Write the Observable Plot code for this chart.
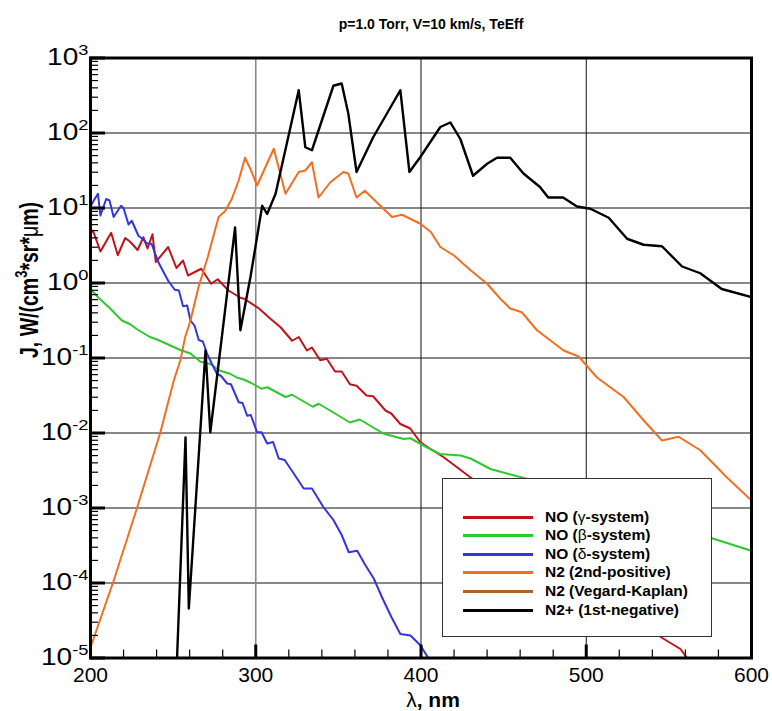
<!DOCTYPE html>
<html>
<head>
<meta charset="utf-8">
<script src="https://cdn.jsdelivr.net/npm/d3@7"></script>
<script src="https://cdn.jsdelivr.net/npm/@observablehq/plot@0.6"></script>
<style>
  body { margin: 0; background: #fff; }
  #wrap { position: relative; width: 772px; height: 711px; font-family: "Liberation Sans", Arial, sans-serif; }
  #title { position: absolute; left: 90px; top: 16px; width: 682px; text-align: center; font-weight: bold; font-size: 14px; }
  #chart { position: absolute; left: 0; top: 40px; }
  #legend { position: absolute; left: 442px; top: 478px; width: 270px; height: 159px; background: #fff; border: 1.5px solid #333; box-sizing: border-box; }
  .row { position: absolute; left: 0; height: 18px; line-height: 18px; font-weight: bold; font-size: 15.5px; white-space: nowrap; }
  .sw { position: absolute; left: 20px; width: 70px; height: 3px; top: 8px; }
  .lb { position: absolute; left: 102px; top: 0; }
  .gr { font-weight: normal; }
</style>
</head>
<body>
<div id="wrap">
  <div id="title">p=1.0 Torr, V=10 km/s, TeEff</div>
  <div id="chart"></div>
  <div id="legend"></div>
</div>
<script>
// ---------- data (wavelength nm, log10 of J) ----------
const seriesNames = ["NO (γ-system)", "NO (β-system)", "NO (δ-system)", "N2 (2nd-positive)", "N2 (Vegard-Kaplan)", "N2+ (1st-negative)"];
const seriesColors = ["#c0141c", "#2fc82f", "#3535e0", "#f36e20", "#a8642a", "#000000"];

const lamNOgamma = [200, 201.5, 206, 212.5, 216.5, 221, 224, 228.5, 232, 234.5, 237.5, 239.5, 247, 252, 256, 259, 267, 273, 277, 283.5, 291, 293, 302, 308, 315, 322, 326, 331, 334, 339, 343, 348, 352, 357, 361, 367, 371, 378.5, 382, 387.5, 393.5, 399.5, 405.5, 413.5, 422, 431, 460, 500, 530, 545, 557, 561, 563];
const logNOgamma = [0.66, 0.70, 0.42, 0.67, 0.37, 0.60, 0.55, 0.44, 0.61, 0.46, 0.65, 0.28, 0.48, 0.20, 0.30, 0.10, 0.19, -0.01, 0.05, -0.10, -0.20, -0.21, -0.34, -0.46, -0.59, -0.77, -0.72, -0.90, -0.86, -1.03, -1.01, -1.18, -1.18, -1.35, -1.37, -1.50, -1.51, -1.70, -1.74, -1.88, -1.94, -2.12, -2.21, -2.32, -2.46, -2.61, -3.10, -3.75, -4.30, -4.72, -4.88, -5.00, -5.10];

const lamNObeta = [200, 205, 211, 219, 224, 229, 236, 241, 248, 254, 260.5, 266.5, 272.5, 278.5, 284.5, 288.5, 293, 297, 303.5, 307, 318, 322, 334.5, 338, 345, 357, 363, 377.5, 389.5, 393.5, 403.5, 411.5, 424, 430, 442, 452, 464, 500, 540, 577, 600];
const logNObeta = [-0.08, -0.20, -0.32, -0.50, -0.55, -0.63, -0.72, -0.76, -0.83, -0.89, -0.94, -1.05, -1.08, -1.17, -1.21, -1.26, -1.29, -1.33, -1.41, -1.39, -1.52, -1.49, -1.65, -1.61, -1.70, -1.86, -1.82, -2.01, -2.08, -2.07, -2.19, -2.28, -2.30, -2.34, -2.48, -2.54, -2.61, -2.85, -3.12, -3.41, -3.57];

const lamNOdelta = [200, 202, 204.5, 206, 209.5, 211.5, 214, 218.5, 220, 223, 225, 229, 232, 234, 237, 241, 247, 251, 253.5, 256, 258.5, 260.5, 263, 265.5, 268, 270.5, 273.5, 276.5, 279, 282.7, 285, 289.7, 292, 294.8, 297, 300.8, 303.5, 306.9, 310.5, 313.9, 317.5, 323, 329, 334, 341, 347, 352, 356.3, 361.4, 366, 371.4, 376.4, 382, 387.5, 393.6, 399.6, 404.7, 406];
const logNOdelta = [1.02, 1.10, 1.19, 0.90, 1.12, 1.10, 0.88, 1.03, 1.00, 0.78, 0.83, 0.63, 0.58, 0.53, 0.52, 0.28, 0.03, -0.09, -0.10, -0.31, -0.30, -0.50, -0.57, -0.76, -0.78, -0.94, -1.08, -1.21, -1.24, -1.34, -1.35, -1.59, -1.60, -1.77, -1.76, -1.99, -1.99, -2.14, -2.12, -2.34, -2.36, -2.54, -2.74, -2.74, -2.99, -3.16, -3.36, -3.59, -3.57, -3.75, -3.94, -4.19, -4.45, -4.68, -4.70, -4.83, -5.01, -5.10];

const lamN2pos = [200, 214, 228, 242.3, 250.4, 254.4, 257.3, 260.5, 265.3, 271, 277.5, 281.5, 285.5, 289.7, 293.5, 296.8, 300.8, 310.9, 318, 326, 330, 334, 338, 345, 353, 356, 361, 366, 375.4, 382.5, 388.5, 399.6, 406, 411.7, 419.8, 430, 440, 448, 454, 461, 470.2, 486.3, 495.4, 506.5, 522.6, 534.7, 545.8, 555.9, 569, 585, 600];
const logN2pos = [-4.86, -3.97, -3.01, -1.99, -1.30, -1.03, -0.72, -0.50, -0.06, 0.35, 0.88, 0.96, 1.12, 1.37, 1.67, 1.52, 1.30, 1.79, 1.19, 1.48, 1.50, 1.61, 1.14, 1.34, 1.48, 1.46, 1.14, 1.23, 1.03, 0.88, 0.91, 0.79, 0.68, 0.48, 0.37, 0.17, -0.01, -0.21, -0.34, -0.39, -0.63, -0.90, -0.98, -1.26, -1.52, -1.83, -2.10, -2.05, -2.23, -2.59, -2.90];

const lamN2plus = [251.5, 257.5, 259.5, 269.6, 272.5, 287.5, 290.7, 296.8, 303.9, 306.9, 312, 326, 330, 334, 347, 352, 356, 361, 371, 387.5, 393, 399.6, 411.7, 417.8, 423.8, 431.5, 440, 446, 454, 462, 472, 477, 486, 494.4, 502.5, 513.6, 524.7, 534.7, 545.8, 558, 569, 582, 600];
const logN2plus = [-5.5, -2.06, -4.34, -0.90, -1.99, 0.74, -0.63, 0.08, 1.03, 0.92, 1.19, 2.57, 1.81, 1.77, 2.63, 2.66, 2.26, 1.48, 1.94, 2.57, 1.48, 1.68, 2.08, 2.14, 1.92, 1.43, 1.59, 1.67, 1.67, 1.46, 1.28, 1.14, 1.14, 1.02, 0.99, 0.87, 0.59, 0.51, 0.49, 0.22, 0.13, -0.08, -0.19];

const yMajor = [1e-5, 1e-4, 1e-3, 1e-2, 1e-1, 1, 10, 100, 1000];
const yMinorFactors = [2, 3, 4, 5, 6, 7, 8, 9];
const xMajor = [200, 300, 400, 500, 600];
const xMinor = [220, 240, 260, 280, 320, 340, 360, 380, 420, 440, 460, 480, 520, 540, 560, 580];

// ---------- build ----------
const toRows = (lam, lg) => lam.map((x, i) => ({x, y: Math.pow(10, lg[i])}));
const rowsGamma = toRows(lamNOgamma, logNOgamma);
const rowsBeta = toRows(lamNObeta, logNObeta);
const rowsDelta = toRows(lamNOdelta, logNOdelta);
const rowsPos = toRows(lamN2pos, logN2pos);
const rowsPlus = toRows(lamN2plus, logN2plus);
const yMinor = yMajor.slice(0, -1).flatMap(d => yMinorFactors.map(k => k * d));

const W = 772, H = 671, mL = 90, mR = 21, mT = 17.5, mB = 53.5;
const pw = W - mL - mR, ph = H - mT - mB;
const font = "'Liberation Sans', Arial, sans-serif";

const plot = Plot.plot({
  width: W, height: H,
  marginLeft: mL, marginRight: mR, marginTop: mT, marginBottom: mB,
  style: {fontFamily: font, background: "white", color: "black", overflow: "visible"},
  x: {domain: [200, 600]},
  y: {type: "log", domain: [1e-5, 1e3]},
  marks: [
    Plot.ruleY(yMajor, {y: d => d, stroke: "#111", strokeWidth: 1}),
    Plot.ruleX([400, 500], {x: d => d, stroke: "#111", strokeWidth: 1}),
    Plot.ruleX([300], {x: d => d, stroke: "#8a8a8a", strokeWidth: 1.6}),
    Plot.line(rowsGamma, {x: "x", y: "y", stroke: seriesColors[0], strokeWidth: 2, clip: true}),
    Plot.line(rowsBeta, {x: "x", y: "y", stroke: seriesColors[1], strokeWidth: 2, clip: true}),
    Plot.line(rowsDelta, {x: "x", y: "y", stroke: seriesColors[2], strokeWidth: 2, clip: true}),
    Plot.line(rowsPos, {x: "x", y: "y", stroke: seriesColors[3], strokeWidth: 2, clip: true}),
    Plot.line(rowsPlus, {x: "x", y: "y", stroke: seriesColors[5], strokeWidth: 2.4, clip: true}),
    Plot.tickY(yMajor, {y: d => d, insetRight: pw - 15, strokeWidth: 3, stroke: "black"}),
    Plot.tickY(yMinor, {y: d => d, insetRight: pw - 8, strokeWidth: 1.2, stroke: "black"}),
    Plot.tickX(xMajor, {x: d => d, insetTop: ph - 13, strokeWidth: 3, stroke: "black"}),
    Plot.tickX(xMinor, {x: d => d, insetTop: ph - 8, strokeWidth: 1.2, stroke: "black"}),
    Plot.frame({stroke: "black", strokeWidth: 3}),
    Plot.axisY({ticks: yMajor, tickSize: 0, tickPadding: 2, fontSize: 23, label: null,
      tickFormat: d => "10^" + Math.round(Math.log10(d))}),
    Plot.axisX({ticks: xMajor, tickSize: 0, tickPadding: 9, fontSize: 21, label: null, tickFormat: d => String(d)}),
    Plot.text(["λ, nm"], {frameAnchor: "bottom", lineAnchor: "middle", dx: 12, dy: 42, fontSize: 21, fontWeight: "bold"}),
    Plot.text(["J, W/(cm3*sr*μm)"], {frameAnchor: "left", rotate: -90, dx: -61, fontSize: 19.5, fontWeight: "bold"})
  ]
});
document.getElementById("chart").appendChild(plot);

// superscript exponents on the y tick labels and styled axis titles
const svg = d3.select(plot);
svg.selectAll("text").each(function() {
  const t = d3.select(this);
  const s = this.textContent;
  if (/^10\^-?\d+$/.test(s)) {
    const e = s.split("^")[1];
    t.text("10");
    t.append("tspan").attr("dy", "-10").attr("font-size", 15).text(e);
    const tr = t.attr("transform");
    t.attr("transform", (tr ? tr + " " : "") + "scale(1.22,1)");
  } else if (s === "λ, nm") {
    t.text("");
    t.append("tspan").attr("font-weight", "normal").text("λ");
    t.append("tspan").text(", nm");
  } else if (s === "J, W/(cm3*sr*μm)") {
    t.text("J, W/(cm");
    t.append("tspan").attr("dy", "-8").attr("font-size", 13).text("3");
    t.append("tspan").attr("dy", "8").text("*sr*");
    t.append("tspan").attr("font-weight", "normal").text("μ");
    t.append("tspan").text("m)");
    const tr = t.attr("transform");
    t.attr("transform", (tr ? tr + " " : "") + "scale(1,1.3)");
  }
});

// legend
const legend = document.getElementById("legend");
seriesNames.forEach((name, i) => {
  const row = document.createElement("div");
  row.className = "row";
  row.style.top = (28.5 + i * 18.6) + "px";
  row.style.width = "100%";
  const sw = document.createElement("div");
  sw.className = "sw";
  sw.style.background = seriesColors[i];
  row.appendChild(sw);
  const lb = document.createElement("div");
  lb.className = "lb";
  const m = name.match(/^(.*\()([γβδ])(.*)$/);
  if (m) {
    lb.append(m[1]);
    const g = document.createElement("span"); g.className = "gr"; g.textContent = m[2];
    lb.appendChild(g);
    lb.append(m[3]);
  } else lb.textContent = name;
  row.appendChild(lb);
  legend.appendChild(row);
});
</script>
</body>
</html>
